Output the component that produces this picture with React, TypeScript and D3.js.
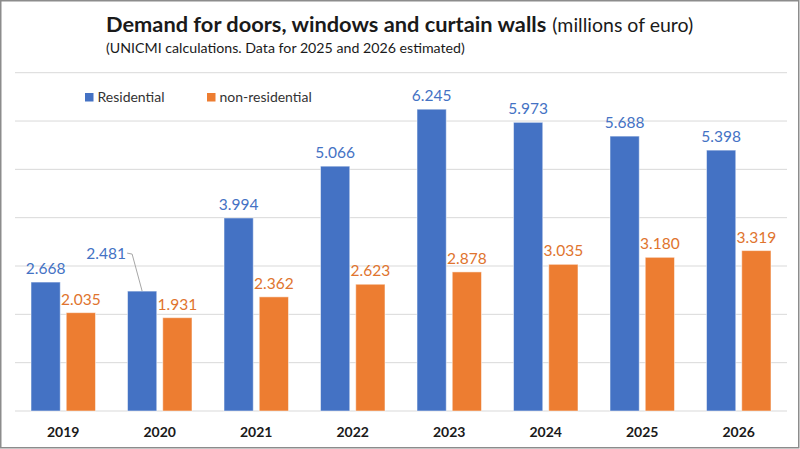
import React, { useRef, useEffect } from "react"
import * as d3 from "d3"

const years = ["2019", "2020", "2021", "2022", "2023", "2024", "2025", "2026"]
const residential = [2668, 2481, 3994, 5066, 6245, 5973, 5688, 5398]
const nonResidential = [2035, 1931, 2362, 2623, 2878, 3035, 3180, 3319]
const seriesNames = ["Residential", "non-residential"]
const seriesColors = ["#4472C4", "#ED7D31"]
const labelColors = ["#4472C4", "#E0742E"]
const yTicks = [0, 1000, 2000, 3000, 4000, 5000, 6000, 7000]

const W = 800
const H = 449
const FONT = "Lato, 'Open Sans', sans-serif"

const App: React.FC = () => {
  const svgRef = useRef<SVGSVGElement>(null)

  useEffect(() => {
    document.body.style.margin = "0"
    if (!svgRef.current) return
    const svg = d3.select(svgRef.current)
    svg.selectAll("*").remove()

    const plot = { left: 15, right: 787, top: 72.7, bottom: 411 }
    const fmt = d3.formatLocale({ decimal: ",", thousands: ".", grouping: [3], currency: ["", "€"] }).format(",d")

    const x0 = d3
      .scaleBand()
      .domain(years)
      .range([plot.left, plot.right])
      .paddingInner(0.332)
      .paddingOuter(0.166)
    const x1 = d3
      .scaleBand()
      .domain(seriesNames)
      .range([0, x0.bandwidth()])
      .paddingInner(0.17)
    const y = d3.scaleLinear().domain([0, 7000]).range([plot.bottom, plot.top])

    svg.append("rect").attr("width", W).attr("height", H).attr("fill", "#fff")

    // grid
    svg
      .selectAll(".grid")
      .data(yTicks)
      .enter()
      .append("line")
      .attr("x1", plot.left)
      .attr("x2", plot.right)
      .attr("y1", (d) => y(d))
      .attr("y2", (d) => y(d))
      .attr("stroke", "#d9d9d9")
      .attr("stroke-width", 1)

    // title
    const title = svg
      .append("text")
      .attr("x", 106)
      .attr("y", 32)
      .attr("font-family", FONT)
      .attr("fill", "#1a1a1a")
    title.append("tspan").attr("font-weight", "bold").attr("font-size", 21.8).text("Demand for doors, windows and curtain walls")
    title.append("tspan").attr("font-size", 19.5).attr("dx", 6).text("(millions of euro)")

    svg
      .append("text")
      .attr("x", 106)
      .attr("y", 52.5)
      .attr("font-family", FONT)
      .attr("font-size", 14.2)
      .attr("fill", "#1a1a1a")
      .text("(UNICMI calculations. Data for 2025 and 2026 estimated)")

    // legend
    const legendX = [85, 207]
    seriesNames.forEach((name, i) => {
      svg
        .append("rect")
        .attr("x", legendX[i])
        .attr("y", 93)
        .attr("width", 8.5)
        .attr("height", 8.5)
        .attr("fill", seriesColors[i])
      svg
        .append("text")
        .attr("x", legendX[i] + 12.5)
        .attr("y", 102)
        .attr("font-family", FONT)
        .attr("font-size", 14)
        .attr("fill", "#333")
        .text(name)
    })

    const series = [residential, nonResidential]
    series.forEach((vals, si) => {
      const g = svg.append("g")
      g.selectAll("rect")
        .data(vals)
        .enter()
        .append("rect")
        .attr("x", (_, i) => x0(years[i])! + x1(seriesNames[si])!)
        .attr("y", (d) => y(d))
        .attr("width", x1.bandwidth())
        .attr("height", (d) => y(0) - y(d))
        .attr("fill", seriesColors[si])
        .attr("stroke", "#ffffff")
        .attr("stroke-opacity", 0.5)
        .attr("stroke-width", 1)

      vals.forEach((d, i) => {
        const cx = x0(years[i])! + x1(seriesNames[si])! + x1.bandwidth() / 2
        const moved = si === 0 && i === 1
        const lx = moved ? cx - 36 : cx
        const ly = moved ? y(d) - 32 : y(d) - 8
        g.append("text")
          .attr("x", lx)
          .attr("y", ly)
          .attr("text-anchor", "middle")
          .attr("font-family", FONT)
          .attr("font-size", 15.5)
          .attr("fill", labelColors[si])
          .text(fmt(d))
        if (moved) {
          g.append("polyline")
            .attr("points", `${lx + 21},${ly - 6} ${lx + 26},${ly - 5} ${cx},${y(d)}`)
            .attr("fill", "none")
            .attr("stroke", "#a6a6a6")
            .attr("stroke-width", 1)
        }
      })
    })

    // x axis labels
    svg
      .selectAll(".xlab")
      .data(years)
      .enter()
      .append("text")
      .attr("x", (d) => x0(d)! + x0.bandwidth() / 2)
      .attr("y", 437)
      .attr("text-anchor", "middle")
      .attr("font-family", FONT)
      .attr("font-weight", "bold")
      .attr("font-size", 14)
      .attr("fill", "#1a1a1a")
      .text((d) => d)

    // frame
    svg
      .append("rect")
      .attr("x", 0.75)
      .attr("y", 0.75)
      .attr("width", W - 2)
      .attr("height", H - 2)
      .attr("fill", "none")
      .attr("stroke", "#8c8c8c")
      .attr("stroke-width", 1.5)
  }, [])

  return <svg ref={svgRef} width={W} height={H} style={{ display: "block" }} />
}

export default App
